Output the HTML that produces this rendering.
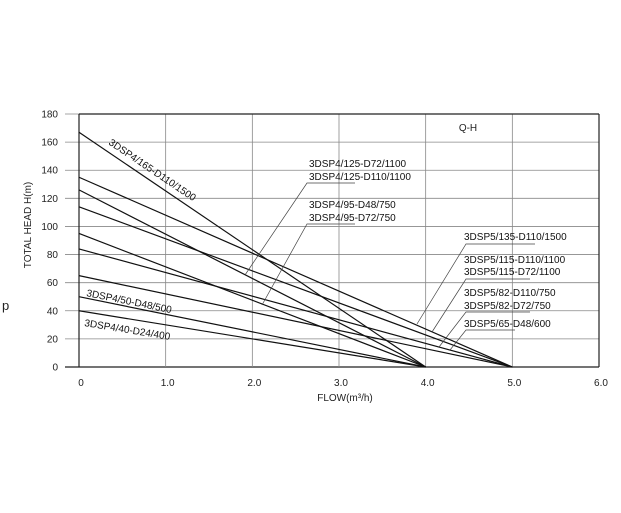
<!DOCTYPE html>
<html><head><meta charset="utf-8">
<style>body{margin:0;background:#fff}svg{display:block;font-family:"Liberation Sans",sans-serif}</style>
</head><body>
<svg width="621" height="513" viewBox="0 0 621 513">
<g id="grid"></g><g id="lines"></g><g id="labels"></g>
<text x="2" y="310" font-size="13" fill="#222">p</text>
<text transform="translate(31,225) rotate(-90)" text-anchor="middle" font-size="10" fill="#222">TOTAL HEAD H(m)</text>
<text x="345" y="401" text-anchor="middle" font-size="10" fill="#222">FLOW(m³/h)</text>
<text x="468" y="131" text-anchor="middle" font-size="10" fill="#222">Q-H</text>
</svg>
<script>
const xTicks=[0,1,2,3,4,5,6];
const xTickLabels=["0","1.0","2.0","3.0","4.0","5.0","6.0"];
const yTicks=[0,20,40,60,80,100,120,140,160,180];
const startHeads=[167,135,126,114,95,84,65,50,40];
const endFlows=[4,5,4,5,4,5,5,4,4];
const X0=79,X1=599,Y0=367,Y1=114;
const sx=v=>X0+(X1-X0)*v/6, sy=v=>Y0-(Y0-Y1)*v/180;
const NS="http://www.w3.org/2000/svg";
function mk(t,a,p){const e=document.createElementNS(NS,t);for(const k in a)e.setAttribute(k,a[k]);p.appendChild(e);return e;}
const g=document.getElementById('grid');
yTicks.forEach((v,i)=>{
 const l=mk('line',{x1:65,x2:X1,y1:sy(v),y2:sy(v),stroke:i==0?'#222':'#888','stroke-width':i==0?1.2:0.8},g);
 
 
 const t=mk('text',{x:58,y:sy(v)+3.5,'text-anchor':'end','font-size':10,fill:'#222'},g);t.textContent=v;
 
 
});
xTicks.forEach((v,i)=>{
 const l=mk('line',{x1:sx(v),x2:sx(v),y1:Y1,y2:Y0,stroke:(i==0||i==6)?'#222':'#888','stroke-width':(i==0||i==6)?1.2:0.8},g);
 
 
 const t=mk('text',{x:sx(v)+2,y:386,'text-anchor':'middle','font-size':10,fill:'#222'},g);t.textContent=xTickLabels[i];
 
 
});
const topBorder=mk('line',{x1:X0,x2:X1,y1:Y1,y2:Y1,stroke:'#222','stroke-width':1.2},g);


const L=document.getElementById('lines');
startHeads.forEach((h,i)=>{
 const l=mk('line',{x1:sx(0),y1:sy(h),x2:sx(endFlows[i]),y2:sy(0),stroke:'#111','stroke-width':1.2},L);
 
 
});
const lab=document.getElementById('labels');
function txt(s,x,y,rot){const t=mk('text',{x:x,y:y,'font-size':10,fill:'#111',transform:rot?`rotate(${rot} ${x} ${y})`:''},lab);t.textContent=s;
 
 }
function lead(pts){const p=mk('polyline',{points:pts,fill:'none',stroke:'#444','stroke-width':0.7},lab);
 
 }
txt("3DSP4/165-D110/1500",108,144,34);
txt("3DSP4/50-D48/500",86,296,11.4);
txt("3DSP4/40-D24/400",84,326,9.2);
txt("3DSP4/125-D72/1100",309,167);txt("3DSP4/125-D110/1100",309,180);
txt("3DSP4/95-D48/750",309,208);txt("3DSP4/95-D72/750",309,221);
txt("3DSP5/135-D110/1500",464,240);
txt("3DSP5/115-D110/1100",464,263);txt("3DSP5/115-D72/1100",464,275);
txt("3DSP5/82-D110/750",464,296);txt("3DSP5/82-D72/750",464,309);
txt("3DSP5/65-D48/600",464,327);
lead("355,183 307,183 245,275");lead("355,224 307,224 262,305");
lead("535,244 466,244 417,324");lead("530,279 466,279 432,332");
lead("530,312 466,312 439,347");lead("515,330 466,330 450,350");
</script>
</body></html>
